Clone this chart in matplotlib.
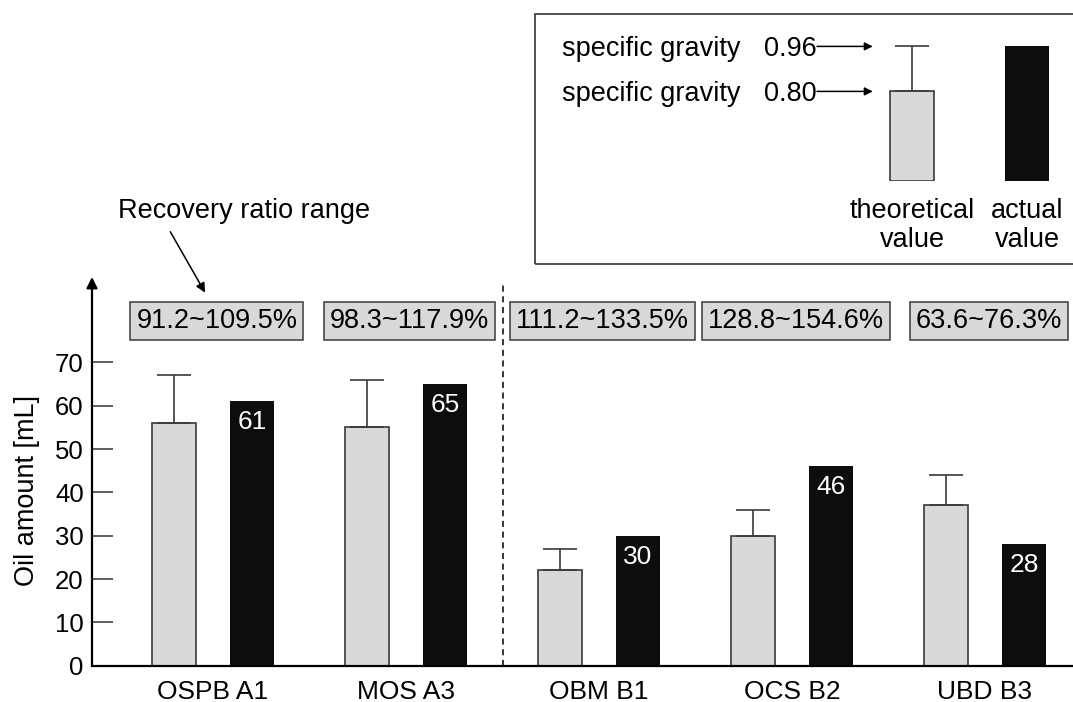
import matplotlib
matplotlib.use('Agg')
import matplotlib.pyplot as plt
from matplotlib.patches import Rectangle
import numpy as np

plt.rcParams['font.family'] = ['Liberation Sans', 'DejaVu Sans']

# data
groups = ['OSPB A1', 'MOS A3', 'OBM B1', 'OCS B2', 'UBD B3']
theoretical = [56, 55, 22, 30, 37]          # sp. gravity 0.80
theoretical_upper = [67, 66, 27, 36, 44]    # sp. gravity 0.96
actual = [61, 65, 30, 46, 28]
recovery = ['91.2~109.5%', '98.3~117.9%', '111.2~133.5%', '128.8~154.6%', '63.6~76.3%']
yticks = [0, 10, 20, 30, 40, 50, 60, 70]

# schematic bars inside the legend box
legend_theo = 2.0
legend_upper = 3.0
legend_actual = 3.0

GRAY = '#d9d9d9'
BLACK = '#0d0d0d'
EDGE = '#3a3a3a'
W, H = 1073, 702

fig = plt.figure(figsize=(W / 100, H / 100), dpi=100)

# main axes: x from 92px to right edge, y=0 at 665.7px, top at 277px
ax = fig.add_axes([92 / W, (H - 665.7) / H, (W - 92) / W, (665.7 - 277) / H])
x = np.arange(len(groups))
off, bw = 0.202, 0.225

ax.bar(x - off, theoretical, bw, color=GRAY, edgecolor=EDGE, linewidth=1.2, zorder=2)
err = np.array(theoretical_upper) - np.array(theoretical)
ax.errorbar(x - off, theoretical, yerr=[np.zeros(len(x)), err], fmt='none',
            ecolor=EDGE, elinewidth=1.2, capsize=12, capthick=1.2, zorder=3)
ax.bar(x + off, actual, bw, color=BLACK, edgecolor=BLACK, linewidth=0, zorder=2)

for xi, v in zip(x + off, actual):
    ax.annotate(str(v), xy=(xi, v), xytext=(0, -15), textcoords='offset points',
                ha='center', va='center', color='white', fontsize=19)

for xi, r in zip(x, recovery):
    ax.text(xi + 0.02, 79.5, r, ha='center', va='center', fontsize=19.5, zorder=4,
            bbox=dict(boxstyle='square,pad=0.22', fc=GRAY, ec=EDGE, lw=1.1))

ax.axvline(1.5, ymin=0, ymax=0.99, color='black', lw=1.1, ls=(0, (4, 3)), zorder=1)

ax.set_xlim(-0.627, 4.456)
ax.set_ylim(0, 89.7)
ax.set_yticks(yticks)
ax.set_xticks(x)
ax.set_xticklabels(groups, fontsize=19)
ax.tick_params(axis='y', direction='in', length=15, width=1.1, color='#333333',
               labelsize=18.5, pad=6)
ax.tick_params(axis='x', length=0, pad=10)

for s in ['top', 'right', 'left']:
    ax.spines[s].set_visible(False)
ax.spines['bottom'].set_linewidth(1.6)
ax.patch.set_alpha(0)

# y axis as arrow
ax.annotate('', xy=(0, 1.0), xytext=(0, 0), xycoords='axes fraction',
            arrowprops=dict(arrowstyle='-|>', lw=1.6, color='black',
                            mutation_scale=16, shrinkA=0, shrinkB=0))

fig.text(27 / W, 1 - 490 / H, 'Oil amount [mL]', rotation=90, ha='center', va='center',
         fontsize=19.5)

# recovery ratio note
ax.annotate('Recovery ratio range', xy=(-0.041, 86.1), xytext=(-0.492, 104.9),
            ha='left', va='center', fontsize=19.5, annotation_clip=False,
            arrowprops=dict(arrowstyle='-|>', lw=1.1, color='black', mutation_scale=14,
                            shrinkA=4, shrinkB=0, relpos=(0.19, 0)))

# legend box
fig.patches.append(Rectangle((535 / W, (H - 264) / H), 0.6, (264 - 14) / H,
                             transform=fig.transFigure, fill=False, ec='#333333', lw=1.2))

# legend sample bars: y=0 at 181.4px, 45px per unit; x=0 at 912px, 115px per unit
lax = fig.add_axes([862 / W, (H - 181.4) / H, (W - 862) / W, 3.3 * 45 / H])
lax.set_xlim(-50 / 115, (W - 912) / 115)
lax.set_ylim(0, 3.3)
lax.axis('off')
lax.bar([0], [legend_theo], 0.378, color=GRAY, edgecolor=EDGE, linewidth=1.2)
lax.errorbar([0], [legend_theo], yerr=[[0], [legend_upper - legend_theo]], fmt='none',
             ecolor=EDGE, elinewidth=1.2, capsize=12, capthick=1.2)
lax.bar([1], [legend_actual], 0.378, color=BLACK, linewidth=0)

for yv, label in [(legend_upper, '0.96'), (legend_theo, '0.80')]:
    lax.annotate('', xy=(-0.341, yv), xytext=(-0.826, yv), annotation_clip=False,
                 arrowprops=dict(arrowstyle='-|>', lw=1.1, color='black', mutation_scale=12,
                                 shrinkA=0, shrinkB=0))
    lax.annotate(label, xy=(-0.83, yv), ha='right', va='center_baseline', fontsize=19.5,
                 annotation_clip=False)
    lax.annotate('specific gravity', xy=((562 - 912) / 115, yv), ha='left',
                 va='center_baseline', fontsize=19.5, annotation_clip=False)

lax.text(0, -0.97, 'theoretical\nvalue', ha='center', va='center', fontsize=19.5,
         linespacing=1.15, clip_on=False)
lax.text(1, -0.97, 'actual\nvalue', ha='center', va='center', fontsize=19.5,
         linespacing=1.15, clip_on=False)

fig.savefig('out.png', dpi=100)
